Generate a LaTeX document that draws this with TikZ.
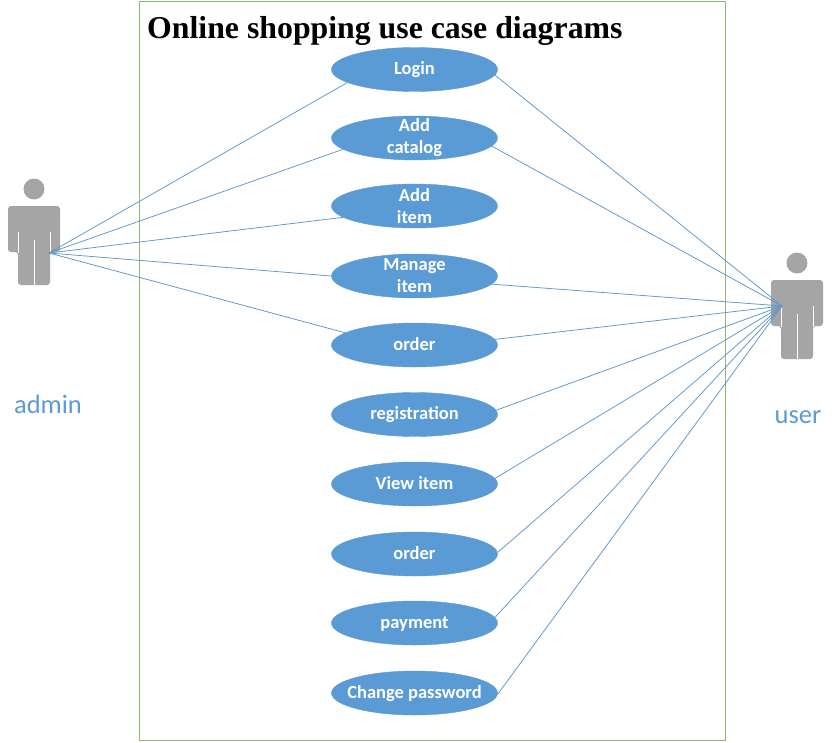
\documentclass[tikz,border=0pt]{standalone}
\usepackage{fontspec}
\setmainfont{Carlito}
\newfontfamily\titlefont{Liberation Serif}
\usetikzlibrary{shapes.geometric}
\definecolor{ublue}{HTML}{5B9BD5}
\definecolor{ugray}{HTML}{A5A5A5}
\definecolor{uframe}{HTML}{8DB871}
\newcommand{\oneline}{\rule[-4pt]{0pt}{18pt}}
\tikzset{
  x=1pt,y=-1pt,
  usecase/.style={ellipse,fill=ublue,draw=ublue,inner xsep=-40pt,inner ysep=-20pt,minimum width=166pt,minimum height=44pt,text=white,align=center,font=\fontsize{18.5}{22}\selectfont\bfseries},
  link/.style={draw=ublue!85!gray,line width=0.75pt},
  actorlabel/.style={text=ublue,font=\fontsize{26.5}{30}\selectfont,inner sep=0pt},
  actor/.pic={
    \fill[ugray] (26,10) circle[radius=10.5];
    \fill[ugray,rounded corners=3pt] (0,27) -- (52,27) -- (52,73) -- (42,73) -- (42,106) -- (10,106) -- (10,73) -- (0,73) -- cycle;
    \draw[white,line width=0.9pt] (10,53) -- (10,74) (42,53) -- (42,74) (26,61) -- (26,106);
  }
}
\begin{document}
\begin{tikzpicture}
\useasboundingbox (0,0) rectangle (835,742);
\fill[white] (0,0) rectangle (835,742);
\draw[uframe,line width=1pt] (139,1) rectangle (725,740);
\node[anchor=west,inner sep=0pt,font=\titlefont\fontsize{31.8}{34}\selectfont\bfseries] (title) at (147,31) {Online shopping use case diagrams};

\node[usecase] (e1) at (414.5,69.5) {\oneline Login};
\node[usecase] (e2) at (414.5,138) {Add\\catalog};
\node[usecase] (e3) at (414.5,206) {Add\\item};
\node[usecase] (e4) at (414.5,276) {Manage\\item};
\node[usecase] (e5) at (414.5,345) {\oneline order};
\node[usecase] (e6) at (414.5,414.5) {\oneline registration};
\node[usecase] (e7) at (414.5,484) {\oneline View item};
\node[usecase] (e8) at (414.5,554) {\oneline order};
\node[usecase] (e9) at (414.5,623) {\oneline payment};
\node[usecase] (e10) at (414.5,693) {\oneline Change password};

\pic at (8,179) {actor};
\pic at (771,253) {actor};
\coordinate (adminpt) at (49,253);
\coordinate (userpt) at (782,306);
\node[actorlabel] (admin) at (48,404.5) {admin};
\node[actorlabel] (user) at (798,417) {user};

\draw[link] (adminpt) -- (e1.191.5);
\draw[link] (adminpt) -- (e2.189);
\draw[link] (adminpt) -- (e3.189.5);
\draw[link] (adminpt) -- (e4.180);
\draw[link] (adminpt) -- (e5.170);
\draw[link] (userpt) -- (e1.-4);
\draw[link] (userpt) -- (e2.-6.5);
\draw[link] (userpt) -- (e4.-6);
\draw[link] (userpt) -- (e5.4);
\draw[link] (userpt) -- (e6.3);
\draw[link] (userpt) -- (e7.4);
\draw[link] (userpt) -- (e8.1);
\draw[link] (userpt) -- (e9.4);
\draw[link] (userpt) -- (e10.-1);
\end{tikzpicture}
\end{document}
